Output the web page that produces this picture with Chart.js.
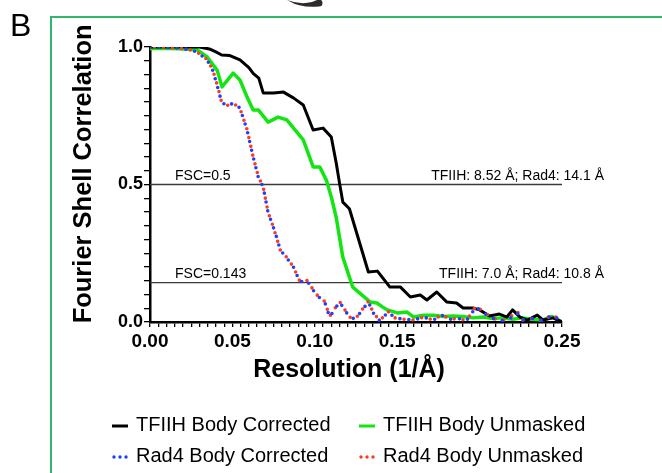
<!DOCTYPE html>
<html>
<head>
<meta charset="utf-8">
<script src="https://cdn.jsdelivr.net/npm/chart.js@4.4.0/dist/chart.umd.min.js"></script>
<style>
html, body { margin: 0; padding: 0; background: #fff; }
#wrap { position: relative; width: 662px; height: 473px; }
</style>
</head>
<body>
<div id="wrap"><canvas id="fscChart"></canvas></div>
<script>
// values (resolution in 1/Å, FSC)
let tfiihCorrRes = [0, 0.010, 0.020, 0.030, 0.036, 0.040, 0.0435, 0.0485, 0.0546, 0.060, 0.0626, 0.066, 0.0687, 0.075, 0.081, 0.087, 0.093, 0.099, 0.105, 0.110, 0.113, 0.115, 0.117, 0.121, 0.1325, 0.138, 0.1456, 0.152, 0.158, 0.164, 0.168, 0.174, 0.180, 0.186, 0.190, 0.196, 0.200, 0.206, 0.212, 0.2166, 0.220, 0.2245, 0.229, 0.235, 0.2385, 0.2445, 0.25];
let tfiihCorrFsc = [1.0, 1.0, 1.0, 1.0, 0.993, 0.982, 0.971, 0.969, 0.953, 0.925, 0.904, 0.887, 0.833, 0.833, 0.836, 0.815, 0.789, 0.698, 0.705, 0.673, 0.578, 0.505, 0.436, 0.412, 0.182, 0.185, 0.127, 0.127, 0.091, 0.098, 0.080, 0.109, 0.073, 0.069, 0.051, 0.051, 0.044, 0.022, 0.029, 0.018, 0.044, 0.018, 0.007, 0.025, 0.007, 0.015, 0.0];

let tfiihUnmRes = [0, 0.010, 0.020, 0.0285, 0.0345, 0.0407, 0.0437, 0.0505, 0.0546, 0.0589, 0.0626, 0.0657, 0.0717, 0.0777, 0.083, 0.093, 0.099, 0.103, 0.107, 0.110, 0.113, 0.117, 0.123, 0.1335, 0.1377, 0.141, 0.144, 0.150, 0.156, 0.160, 0.166, 0.172, 0.178, 0.184, 0.190, 0.196, 0.202, 0.208, 0.214, 0.220, 0.226, 0.232, 0.238, 0.244, 0.25];
let tfiihUnmFsc = [0.995, 0.995, 0.993, 0.99, 0.965, 0.916, 0.855, 0.905, 0.880, 0.818, 0.771, 0.771, 0.727, 0.745, 0.735, 0.662, 0.564, 0.564, 0.516, 0.455, 0.38, 0.236, 0.127, 0.073, 0.069, 0.055, 0.044, 0.033, 0.036, 0.018, 0.025, 0.025, 0.020, 0.022, 0.020, 0.015, 0.018, 0.013, 0.015, 0.010, 0.015, 0.010, 0.007, 0.020, 0.0];

let rad4CorrRes = [0, 0.006, 0.012, 0.018, 0.024, 0.0285, 0.0346, 0.038, 0.041, 0.0434, 0.0467, 0.0505, 0.0546, 0.0589, 0.0626, 0.0657, 0.0687, 0.0717, 0.074, 0.077, 0.079, 0.083, 0.087, 0.091, 0.095, 0.101, 0.106, 0.109, 0.115, 0.121, 0.1245, 0.1275, 0.1325, 0.1355, 0.1395, 0.1445, 0.1487, 0.154, 0.160, 0.166, 0.172, 0.177, 0.182, 0.187, 0.192, 0.198, 0.2015, 0.208, 0.214, 0.219, 0.2227, 0.226, 0.232, 0.238, 0.2445, 0.25];
let rad4CorrFsc = [1.0, 1.0, 0.997, 0.996, 0.99, 0.982, 0.953, 0.916, 0.855, 0.80, 0.785, 0.796, 0.778, 0.698, 0.60, 0.527, 0.491, 0.396, 0.36, 0.305, 0.262, 0.233, 0.20, 0.145, 0.153, 0.098, 0.073, 0.018, 0.073, 0.018, 0.011, 0.033, 0.073, 0.033, 0.004, 0.036, 0.015, 0.010, 0.007, 0.018, 0.007, 0.025, 0.010, 0.013, 0.005, 0.055, 0.036, 0.013, 0.005, 0.015, 0.033, 0.007, 0.013, 0.005, 0.025, 0.0];

let rad4UnmRes = [0, 0.006, 0.012, 0.018, 0.024, 0.0285, 0.0346, 0.038, 0.041, 0.0434, 0.0467, 0.0505, 0.0546, 0.0589, 0.0626, 0.0657, 0.0687, 0.0717, 0.074, 0.077, 0.079, 0.083, 0.087, 0.091, 0.095, 0.101, 0.106, 0.109, 0.115, 0.121, 0.1245, 0.1275, 0.1325, 0.1355, 0.1395, 0.1445, 0.1487, 0.154, 0.160, 0.166, 0.172, 0.177, 0.182, 0.187, 0.192, 0.198, 0.2015, 0.208, 0.214, 0.219, 0.2227, 0.226, 0.232, 0.238, 0.2445, 0.25];
let rad4UnmFsc = [1.0, 1.0, 0.997, 0.995, 0.99, 0.982, 0.955, 0.918, 0.858, 0.80, 0.787, 0.796, 0.776, 0.700, 0.60, 0.530, 0.490, 0.398, 0.36, 0.303, 0.262, 0.235, 0.20, 0.147, 0.153, 0.100, 0.075, 0.020, 0.075, 0.018, 0.010, 0.035, 0.075, 0.033, 0.005, 0.038, 0.015, 0.010, 0.007, 0.018, 0.007, 0.027, 0.010, 0.013, 0.005, 0.060, 0.040, 0.013, 0.005, 0.020, 0.040, 0.007, 0.013, 0.005, 0.027, 0.0];

let seriesLabels = ['TFIIH Body Corrected', 'TFIIH Body Unmasked', 'Rad4 Body Corrected', 'Rad4 Body Unmasked'];

let cutoffRes = [0, 0.25];
let fscCutoffs = [0.5, 0.143];
let cutoffLeftLabels = ['FSC=0.5', 'FSC=0.143'];
let cutoffRightLabels = ['TFIIH: 8.52 Å; Rad4: 14.1 Å', 'TFIIH: 7.0 Å; Rad4: 10.8 Å'];

const FONT = "Arial, 'Liberation Sans', Helvetica, sans-serif";

function pts(xs, ys) {
    return xs.map((x, i) => ({x: x, y: ys[i]}));
}

let datasets = [
    {label: seriesLabels[0], data: pts(tfiihCorrRes, tfiihCorrFsc), borderColor: '#000000', borderWidth: 3, order: 3},
    {label: seriesLabels[1], data: pts(tfiihUnmRes, tfiihUnmFsc), borderColor: '#13e513', borderWidth: 3.5, order: 4},
    {label: seriesLabels[2], data: pts(rad4CorrRes, rad4CorrFsc), borderColor: '#1f3fff', borderWidth: 3.6,
        borderDash: [0, 9], borderCapStyle: 'round', order: 1, dotted: true},
    {label: seriesLabels[3], data: pts(rad4UnmRes, rad4UnmFsc), borderColor: '#ff3a1e', borderWidth: 3.6,
        borderDash: [0, 9], borderDashOffset: 4.5, borderCapStyle: 'round', order: 2, dotted: true}
];
fscCutoffs.forEach(function (c) {
    datasets.push({label: 'cutoff', data: pts(cutoffRes, cutoffRes.map(() => c)), borderColor: '#3a3a3a', borderWidth: 1.3, order: 5, cutoff: true});
});

// green frame, panel letter and a bit of the picture above
let framePlugin = {
    id: 'frame',
    beforeDraw(chart) {
        let ctx = chart.ctx;
        ctx.save();
        ctx.fillStyle = '#fff';
        ctx.fillRect(0, 0, chart.width, chart.height);
        ctx.strokeStyle = '#30b76c';
        ctx.lineWidth = 2;
        ctx.strokeRect(51, 17, 700, 500);
        ctx.fillStyle = '#000';
        ctx.font = '32px ' + FONT;
        ctx.textBaseline = 'alphabetic';
        ctx.fillText('B', 10, 36);
        ctx.fillStyle = '#2c2c2c';
        ctx.beginPath();
        ctx.moveTo(287, 0);
        ctx.quadraticCurveTo(300, 5, 312, 2);
        ctx.lineTo(317, 0);
        ctx.arc(319, 3, 3.5, -Math.PI / 2, Math.PI / 2);
        ctx.quadraticCurveTo(300, 8, 289, 1);
        ctx.closePath();
        ctx.fill();
        ctx.restore();
    }
};

// cutoff texts + two-column legend
let textPlugin = {
    id: 'texts',
    afterDraw(chart) {
        let ctx = chart.ctx;
        let area = chart.chartArea;
        let yScale = chart.scales.y;
        ctx.save();
        ctx.fillStyle = '#000';
        ctx.font = '14px ' + FONT;
        ctx.textBaseline = 'alphabetic';
        fscCutoffs.forEach(function (c, i) {
            let y = yScale.getPixelForValue(c) - 4.5;
            ctx.textAlign = 'left';
            ctx.fillText(cutoffLeftLabels[i], area.left + 25, y);
            ctx.textAlign = 'right';
            ctx.fillText(cutoffRightLabels[i], area.right + 42, y);
        });

        let cols = [112, 359];
        let rows = [425, 456];
        let ds = chart.data.datasets.filter(d => !d.cutoff);
        ds.forEach(function (d, i) {
            let x = cols[i % 2];
            let y = rows[Math.floor(i / 2)];
            ctx.strokeStyle = d.borderColor;
            ctx.fillStyle = d.borderColor;
            if (d.dotted) {
                for (let k = 0; k < 3; k++) {
                    ctx.beginPath();
                    ctx.arc(x + 2 + k * 6, y + 1, 1.7, 0, Math.PI * 2);
                    ctx.fill();
                }
            } else {
                ctx.lineWidth = 3;
                ctx.beginPath();
                ctx.moveTo(x, y + 1);
                ctx.lineTo(x + 16, y + 1);
                ctx.stroke();
            }
            ctx.fillStyle = '#000';
            ctx.font = '20px ' + FONT;
            ctx.textAlign = 'left';
            ctx.textBaseline = 'middle';
            ctx.fillText(d.label, x + 24, y);
        });
        ctx.restore();
    }
};

let chart = new Chart(document.getElementById('fscChart'), {
    type: 'line',
    data: {datasets: datasets},
    options: {
        responsive: true,
        maintainAspectRatio: false,
        animation: false,
        devicePixelRatio: 1,
        layout: {padding: {left: 50, right: 100, top: 47, bottom: 88}},
        elements: {
            point: {radius: 0, hoverRadius: 0},
            line: {tension: 0, fill: false, borderJoinStyle: 'round'}
        },
        plugins: {
            legend: {display: false},
            tooltip: {enabled: false}
        },
        scales: {
            x: {
                type: 'linear',
                min: 0,
                max: 0.25,
                afterFit: function (scale) { scale.height = 63; },
                border: {color: '#000', width: 2.5},
                grid: {drawOnChartArea: false, color: '#000', lineWidth: 1.3, tickLength: 5},
                ticks: {
                    stepSize: 0.005,
                    autoSkip: false,
                    maxRotation: 0,
                    padding: 3,
                    color: '#000',
                    font: {family: FONT, size: 19, weight: 'bold'},
                    callback: function (v) {
                        let m = Math.round(v * 1000);
                        return m % 50 === 0 ? (m / 1000).toFixed(2) : '';
                    }
                },
                title: {
                    display: true,
                    text: 'Resolution (1/Å)  ',
                    color: '#000',
                    font: {family: FONT, size: 25, weight: 'bold'},
                    padding: {top: 0, bottom: 0}
                }
            },
            y: {
                min: 0,
                max: 1,
                afterFit: function (scale) { scale.width = 100; },
                border: {color: '#000', width: 2.5},
                grid: {drawOnChartArea: false, color: '#000', lineWidth: 1.3, tickLength: 6},
                ticks: {
                    stepSize: 0.05,
                    autoSkip: false,
                    padding: 1,
                    color: '#000',
                    font: {family: FONT, size: 18, weight: 'bold'},
                    callback: function (v) {
                        let m = Math.round(v * 100);
                        return m % 50 === 0 ? (m / 100).toFixed(1) : '';
                    }
                },
                title: {
                    display: true,
                    text: '   Fourier Shell Correlation',
                    color: '#000',
                    font: {family: FONT, size: 25.5, weight: 'bold'},
                    padding: {top: 19, bottom: 0}
                }
            }
        }
    },
    plugins: [framePlugin, textPlugin]
});
</script>
</body>
</html>
